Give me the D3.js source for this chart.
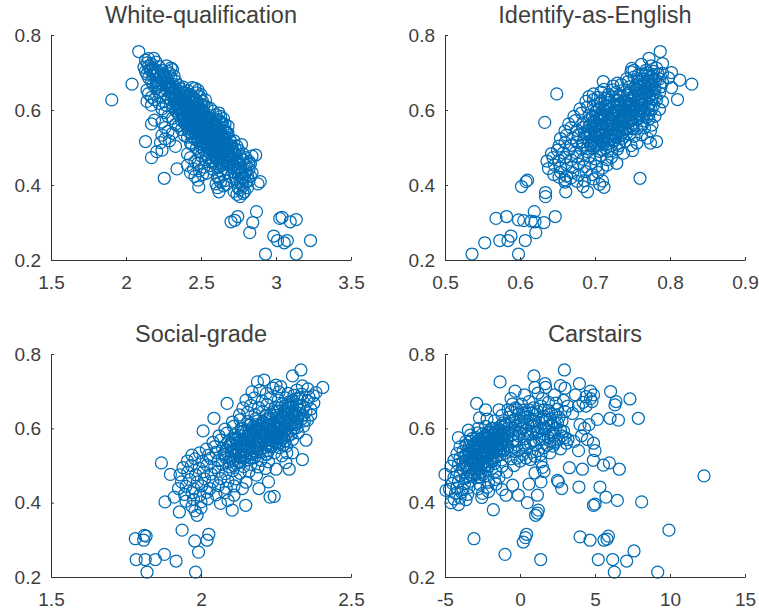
<!DOCTYPE html>
<html>
<head>
<meta charset="utf-8">
<script src="https://d3js.org/d3.v7.min.js"></script>
<style>
html, body { margin: 0; padding: 0; background: white; }
svg { display: block; }
text { font-family: "Liberation Sans", Arial, sans-serif; fill: #404040; }
</style>
</head>
<body>
<div id="chart"></div>
<script>
// values: [x, leave share]
const whiteQualification = [
  [1.905,.627],[2.04,.669],[2.085,.756],[2.185,.738],[2.13,.516],[2.17,.473],[2.205,.489],[2.255,.418],[2.34,.443],[2.485,.395],[2.62,.382],[2.76,.369],[2.865,.48],[2.895,.409],[2.88,.403],
  [2.7,.302],[2.745,.316],[2.725,.306],[2.87,.329],[2.845,.3],[2.825,.273],[2.985,.264],[3.025,.311],[3.04,.314],[3.095,.302],[3.135,.308],[3.01,.252],[3.055,.246],[3.075,.252],[3.23,.252],[2.93,.216],[3.135,.216],
  [2.13,.733],[2.15,.737],[2.14,.726],[2.17,.722],[2.2,.728],[2.12,.714],[2.15,.717],[2.18,.712],[2.22,.716],[2.27,.718],[2.3,.712],
  [2.13,.703],[2.16,.707],[2.19,.702],[2.24,.706],[2.28,.703],[2.31,.708],[2.14,.696],[2.18,.692],[2.21,.698],[2.25,.694],[2.29,.697],[2.32,.691],
  [2.15,.686],[2.2,.682],[2.23,.688],[2.26,.683],[2.3,.686],[2.17,.676],[2.21,.673],[2.25,.678],[2.28,.672],[2.33,.677],
  [2.18,.667],[2.22,.663],[2.27,.668],[2.3,.662],[2.35,.666],[2.38,.661],[2.14,.653],[2.2,.657],[2.24,.652],[2.29,.658],[2.32,.653],[2.36,.657],[2.41,.652],[2.46,.658],[2.48,.653],
  [2.15,.644],[2.22,.648],[2.26,.642],[2.31,.647],[2.34,.643],[2.38,.648],[2.43,.642],[2.47,.646],[2.5,.641],[2.17,.634],[2.23,.638],[2.28,.633],[2.33,.637],[2.37,.632],[2.4,.638],[2.45,.633],[2.49,.636],
  [2.14,.623],[2.19,.628],[2.25,.622],[2.3,.627],[2.35,.623],[2.39,.628],[2.42,.622],[2.47,.627],[2.51,.623],[2.53,.627],[2.17,.613],[2.22,.618],[2.27,.612],[2.33,.617],[2.37,.613],[2.41,.618],[2.44,.612],[2.48,.617],[2.52,.613],
  [2.24,.603],[2.31,.608],[2.35,.602],[2.39,.607],[2.43,.603],[2.46,.608],[2.5,.602],[2.54,.607],[2.26,.593],[2.33,.598],[2.37,.592],[2.41,.597],[2.45,.593],[2.48,.598],[2.52,.592],[2.58,.597],[2.62,.592],
  [2.28,.583],[2.35,.588],[2.39,.582],[2.43,.587],[2.47,.583],[2.5,.588],[2.54,.582],[2.6,.587],[2.63,.583],[2.19,.573],[2.31,.578],[2.37,.572],[2.41,.577],[2.45,.573],[2.49,.578],[2.53,.572],[2.56,.577],[2.62,.572],[2.65,.577],
  [2.17,.563],[2.24,.568],[2.33,.562],[2.39,.567],[2.43,.563],[2.47,.568],[2.51,.562],[2.55,.567],[2.58,.563],[2.63,.568],[2.66,.562],[2.26,.553],[2.35,.558],[2.41,.552],[2.45,.557],[2.49,.553],[2.53,.558],[2.57,.552],[2.6,.557],[2.65,.553],[2.68,.557],
  [2.28,.543],[2.37,.548],[2.42,.542],[2.47,.547],[2.51,.543],[2.55,.548],[2.59,.542],[2.62,.547],[2.66,.543],[2.24,.533],[2.31,.538],[2.39,.532],[2.44,.537],[2.48,.533],[2.53,.538],[2.57,.532],[2.6,.537],[2.64,.533],[2.68,.538],
  [2.26,.523],[2.41,.528],[2.46,.522],[2.5,.527],[2.55,.523],[2.59,.528],[2.62,.522],[2.66,.527],[2.69,.523],[2.23,.513],[2.29,.518],[2.43,.512],[2.48,.517],[2.52,.513],[2.57,.518],[2.6,.512],[2.64,.517],[2.67,.513],[2.72,.518],
  [2.33,.503],[2.44,.508],[2.5,.502],[2.54,.507],[2.58,.503],[2.62,.508],[2.65,.502],[2.69,.507],[2.74,.503],[2.77,.508],[2.24,.493],[2.47,.498],[2.52,.492],[2.56,.497],[2.6,.493],[2.63,.498],[2.67,.492],[2.71,.497],[2.75,.493],
  [2.41,.483],[2.49,.488],[2.54,.482],[2.58,.487],[2.62,.483],[2.65,.488],[2.69,.482],[2.72,.487],[2.78,.483],[2.43,.473],[2.5,.478],[2.55,.472],[2.59,.477],[2.63,.473],[2.67,.478],[2.7,.472],[2.76,.477],[2.8,.473],[2.84,.477],
  [2.46,.463],[2.53,.468],[2.57,.462],[2.61,.467],[2.65,.463],[2.69,.468],[2.74,.462],[2.78,.467],[2.82,.463],[2.41,.453],[2.48,.458],[2.56,.452],[2.6,.457],[2.64,.453],[2.68,.458],[2.72,.452],[2.76,.457],[2.8,.453],[2.83,.457],
  [2.45,.443],[2.52,.448],[2.58,.442],[2.62,.447],[2.67,.443],[2.71,.448],[2.75,.442],[2.79,.447],[2.82,.443],[2.43,.433],[2.49,.438],[2.54,.432],[2.63,.437],[2.68,.433],[2.74,.438],[2.77,.432],[2.8,.437],[2.84,.433],
  [2.46,.423],[2.51,.428],[2.61,.422],[2.65,.427],[2.7,.423],[2.75,.428],[2.78,.422],[2.81,.427],[2.83,.423],[2.48,.413],[2.62,.418],[2.66,.412],[2.73,.417],[2.76,.413],[2.79,.418],[2.82,.412],
  [2.6,.403],[2.63,.408],[2.67,.402],[2.74,.407],[2.77,.403],[2.8,.408],[2.61,.393],[2.65,.398],[2.75,.392],[2.78,.397],[2.81,.393],[2.72,.383],[2.76,.387],[2.79,.382],[2.74,.375],[2.78,.378],
  [2.17,.71],[2.19,.695],[2.21,.705],[2.23,.685],[2.2,.667],[2.24,.67],[2.26,.693],[2.27,.655],[2.28,.678],[2.29,.66],[2.3,.645],[2.31,.669],[2.32,.628],[2.33,.655],[2.34,.638],[2.35,.61],[2.36,.645],[2.37,.622],[2.38,.6],[2.39,.635],[2.4,.613],[2.41,.585],[2.42,.625],[2.43,.598],[2.44,.57],[2.45,.612],[2.46,.585],[2.47,.55],[2.48,.6],[2.49,.57],[2.5,.54],[2.51,.59],[2.52,.555],[2.53,.525],[2.54,.578],[2.55,.54],[2.56,.51],[2.57,.565],[2.58,.525],[2.59,.495],[2.6,.548],[2.61,.51],[2.62,.48],[2.63,.535],[2.64,.495],[2.65,.465],[2.66,.52],[2.67,.48],[2.68,.505],[2.69,.46],[2.7,.49],[2.71,.47],
  [2.335,.612],[2.355,.628],[2.375,.59],[2.395,.617],[2.415,.601],[2.435,.58],[2.455,.598],[2.475,.565],[2.495,.587],[2.515,.547],[2.535,.566],[2.555,.53],[2.575,.547],[2.595,.515],[2.615,.53],[2.635,.505],[2.655,.49],[2.675,.497],[2.345,.622],[2.365,.605],[2.385,.574],[2.405,.568],[2.425,.61],[2.445,.555],[2.465,.605],[2.485,.54],[2.505,.575],[2.525,.51],[2.545,.56],[2.565,.495],[2.585,.555],[2.605,.475],[2.625,.52],[2.645,.475],[2.665,.505],[2.685,.475],
  [2.395,.58],[2.41,.56],[2.43,.57],[2.445,.59],[2.46,.56],[2.475,.58],[2.49,.555],[2.505,.56],[2.52,.57],[2.535,.55],[2.55,.555],[2.565,.54],[2.58,.535],[2.595,.545],[2.61,.525],[2.625,.505],[2.64,.515],[2.655,.51],[2.44,.53],[2.46,.54],[2.48,.525],[2.5,.51],[2.52,.53],[2.54,.515],[2.56,.52],[2.58,.5],[2.6,.505],[2.62,.495],
  [2.29,.665],[2.33,.66],[2.44,.66],[2.36,.64],[2.4,.645],[2.44,.635],[2.34,.62],[2.38,.625],[2.46,.62],[2.5,.615],[2.36,.6],[2.42,.605],[2.47,.595],[2.51,.6],[2.56,.605],[2.38,.58],[2.42,.585],[2.46,.575],[2.52,.58],[2.56,.585],[2.6,.575],[2.42,.565],[2.46,.555],[2.5,.56],[2.54,.565],[2.6,.56],[2.64,.565],[2.44,.545],[2.49,.54],[2.53,.545],[2.57,.54],[2.63,.545],[2.67,.54],[2.48,.52],[2.52,.525],[2.56,.515],[2.6,.52],[2.65,.525],[2.7,.515],[2.52,.505],[2.56,.5],[2.6,.495],[2.66,.5],[2.7,.505],[2.73,.495],[2.56,.485],[2.6,.48],[2.64,.485],[2.68,.475],[2.73,.48],[2.58,.465],[2.63,.46],[2.67,.465],[2.71,.46],[2.76,.445],[2.79,.43],[2.72,.435],[2.77,.42],[2.82,.455],[2.74,.47]
];

const identifyAsEnglish = [
  [.536,.216],[.553,.246],[.573,.252],[.568,.311],[.582,.316],[.588,.264],[.584,.252],[.598,.216],[.598,.307],[.607,.252],[.605,.305],[.619,.329],[.62,.302],[.632,.3],[.621,.273],[.647,.316],[.615,.304],
  [.602,.396],[.608,.409],[.61,.413],[.634,.38],[.634,.369],[.649,.643],[.633,.567],[.76,.418],[.782,.516],[.711,.676],[.787,.756],[.772,.738],[.79,.724],[.749,.711],[.752,.706],[.802,.7],[.813,.68],[.829,.669],[.802,.66],[.81,.628],
  [.69,.382],[.712,.394],[.661,.382],[.729,.458],[.706,.402],[.684,.396],[.66,.408],
  [.762,.722],[.775,.718],[.782,.712],[.748,.702],[.768,.706],[.778,.703],[.79,.698],[.758,.694],[.77,.691],[.784,.696],[.742,.683],[.752,.688],[.764,.682],[.775,.687],[.786,.683],[.798,.686],
  [.724,.664],[.735,.668],[.746,.662],[.756,.667],[.766,.663],[.776,.668],[.788,.662],[.73,.672],[.744,.676],[.76,.674],[.772,.678],[.79,.674],
  [.698,.643],[.708,.648],[.718,.642],[.728,.647],[.738,.653],[.746,.648],[.756,.652],[.766,.643],[.776,.652],[.786,.646],[.712,.655],[.724,.654],
  [.688,.623],[.698,.628],[.708,.622],[.716,.633],[.726,.627],[.734,.634],[.744,.628],[.752,.636],[.762,.628],[.772,.634],[.782,.627],[.79,.622],[.692,.636],[.704,.634],
  [.68,.603],[.69,.608],[.698,.612],[.706,.604],[.714,.612],[.722,.606],[.73,.614],[.738,.607],[.746,.613],[.754,.606],[.762,.614],[.77,.607],[.778,.612],[.786,.602],
  [.672,.583],[.682,.592],[.692,.586],[.7,.594],[.708,.587],[.716,.595],[.724,.588],[.732,.596],[.74,.589],[.748,.596],[.756,.59],[.764,.596],[.772,.59],[.78,.584],
  [.665,.563],[.674,.572],[.684,.566],[.692,.574],[.7,.568],[.708,.576],[.716,.569],[.724,.577],[.732,.57],[.74,.578],[.748,.571],[.756,.577],[.764,.571],[.772,.576],[.776,.56],
  [.66,.544],[.668,.553],[.676,.546],[.684,.554],[.692,.547],[.7,.556],[.708,.549],[.716,.557],[.724,.55],[.732,.558],[.74,.551],[.748,.557],[.756,.55],[.766,.553],[.774,.545],
  [.654,.524],[.662,.533],[.67,.526],[.678,.534],[.686,.527],[.694,.536],[.702,.529],[.71,.537],[.718,.53],[.726,.538],[.734,.531],[.742,.537],[.752,.53],[.762,.534],[.77,.525],[.774,.512],
  [.652,.504],[.66,.513],[.668,.506],[.676,.514],[.684,.507],[.692,.516],[.7,.509],[.708,.517],[.716,.51],[.724,.518],[.732,.511],[.74,.517],[.748,.505],[.756,.512],
  [.642,.484],[.65,.493],[.658,.486],[.666,.494],[.674,.487],[.682,.496],[.69,.489],[.698,.497],[.706,.49],[.714,.498],[.722,.491],[.73,.496],[.738,.485],[.75,.492],
  [.636,.464],[.644,.473],[.652,.466],[.66,.474],[.668,.467],[.676,.476],[.684,.469],[.692,.477],[.7,.47],[.708,.478],[.716,.468],[.722,.474],
  [.638,.444],[.646,.453],[.654,.446],[.662,.454],[.67,.447],[.678,.456],[.686,.449],[.694,.457],[.702,.45],[.71,.445],[.716,.453],
  [.645,.428],[.654,.434],[.662,.424],[.67,.433],[.678,.427],[.688,.436],[.696,.428],[.704,.434],[.66,.414],[.668,.419],[.686,.412],[.698,.416],[.71,.411],[.652,.421],[.676,.41],
  [.684,.515],[.688,.535],[.69,.498],[.693,.56],[.696,.52],[.697,.582],[.699,.541],[.701,.505],[.703,.6],[.704,.563],[.705,.526],[.707,.617],[.708,.495],[.709,.58],[.71,.545],[.712,.51],[.713,.63],[.714,.597],[.715,.56],[.716,.525],[.717,.49],[.719,.612],[.72,.575],[.721,.54],[.722,.505],[.723,.635],[.725,.595],[.726,.56],[.727,.52],[.729,.615],[.73,.58],[.731,.545],[.732,.505],[.733,.64],[.735,.6],[.736,.565],[.737,.525],[.739,.622],[.74,.585],[.741,.55],[.743,.64],[.744,.605],[.745,.57],[.746,.535],[.749,.625],[.75,.59],[.751,.55],[.753,.66],[.755,.61],[.757,.575],[.759,.645],[.761,.6],[.763,.56],[.765,.655],[.767,.62],[.769,.58],[.771,.67],[.773,.64],[.775,.6],[.777,.695],[.779,.66],[.781,.635],[.769,.7],[.763,.695],[.757,.68],
  [.694,.505],[.697,.55],[.7,.53],[.703,.515],[.706,.54],[.709,.562],[.712,.525],[.715,.545],[.718,.58],[.721,.56],[.724,.535],[.727,.6],[.73,.555],[.733,.575],[.736,.54],[.739,.6],[.742,.565],[.745,.61],[.748,.58],[.751,.635],[.754,.595],[.757,.62],[.76,.585],[.763,.63],[.766,.6],[.769,.65],[.772,.615],[.775,.665],[.778,.645],[.781,.68],[.701,.56],[.706,.58],[.711,.6],[.718,.62],[.73,.625],
  [.686,.54],[.69,.525],[.692,.555],[.695,.51],[.698,.57],[.7,.54],[.702,.585],[.705,.51],[.707,.555],[.71,.52],[.712,.585],[.714,.535],[.716,.61],[.718,.55],[.72,.52],[.722,.59],[.724,.565],[.726,.61],[.728,.53],[.73,.595],[.732,.54],[.734,.615],[.736,.58],[.738,.555],[.74,.62],[.742,.595],[.744,.55],[.746,.585],[.748,.615],[.75,.565],[.752,.6],[.754,.64],[.756,.585],[.758,.625],[.76,.66],[.762,.605],[.764,.645],[.766,.59],[.768,.635],[.77,.66],[.772,.6],[.774,.69],[.776,.63],[.778,.68],[.78,.655],[.765,.67],[.755,.655],[.745,.64]
];

const socialGrade = [
  [1.781,.303],[1.811,.312],[1.809,.299],[1.817,.31],[1.784,.247],[1.814,.247],[1.848,.247],[1.878,.261],[1.917,.243],[1.82,.213],[1.982,.213],[1.937,.326],[1.979,.297],[1.992,.267],[2.02,.299],[2.026,.315],
  [1.88,.402],[1.868,.507],[1.898,.476],[1.911,.415],[1.928,.375],[1.987,.366],[2.007,.593],[2.043,.627],[2.087,.667],[2.104,.38],[2.149,.393],[2.065,.398],[2.244,.417],[2.23,.415],[2.193,.438],[2.225,.456],
  [2.338,.516],[2.35,.568],[2.294,.49],[2.25,.49],[2.305,.534],[2.286,.534],[2.283,.508],[2.333,.757],[2.305,.741],[2.406,.71],[2.21,.73],[2.188,.725],[2.25,.716],[2.338,.714],[2.383,.696],[2.355,.622],
  [2.24,.708],[2.266,.712],[2.32,.703],[2.356,.706],[2.374,.688],[2.17,.698],[2.196,.702],[2.218,.694],[2.26,.698],[2.29,.694],[2.31,.689],[2.336,.692],[2.36,.684],
  [2.15,.676],[2.178,.682],[2.204,.674],[2.232,.682],[2.258,.676],[2.282,.682],[2.306,.675],[2.33,.68],[2.354,.673],[2.376,.668],[2.14,.655],[2.166,.662],[2.192,.656],[2.22,.664],[2.248,.657],[2.27,.665],[2.296,.658],[2.32,.664],[2.344,.657],[2.366,.652],
  [2.128,.636],[2.156,.643],[2.18,.637],[2.206,.645],[2.232,.638],[2.256,.646],[2.28,.639],[2.304,.646],[2.328,.64],[2.35,.645],[2.366,.636],[2.105,.617],[2.13,.623],[2.156,.618],[2.182,.626],[2.206,.619],[2.23,.627],[2.254,.62],[2.276,.628],[2.3,.621],[2.322,.627],[2.345,.62],
  [2.08,.598],[2.108,.605],[2.134,.6],[2.158,.608],[2.182,.601],[2.206,.609],[2.23,.602],[2.252,.61],[2.276,.603],[2.298,.609],[2.32,.602],[2.342,.606],[2.06,.58],[2.086,.587],[2.112,.582],[2.136,.59],[2.16,.583],[2.184,.591],[2.208,.584],[2.23,.592],[2.254,.585],[2.276,.591],[2.3,.584],[2.324,.588],
  [2.04,.562],[2.066,.569],[2.09,.564],[2.114,.572],[2.138,.565],[2.162,.573],[2.186,.566],[2.208,.574],[2.232,.567],[2.256,.573],[2.28,.566],[2.305,.57],[2.018,.544],[2.046,.551],[2.072,.546],[2.096,.554],[2.12,.547],[2.144,.555],[2.168,.548],[2.19,.556],[2.214,.549],[2.238,.555],[2.262,.548],[2.285,.552],
  [1.97,.528],[1.995,.534],[2.024,.527],[2.05,.535],[2.076,.529],[2.1,.537],[2.124,.53],[2.148,.538],[2.172,.531],[2.196,.537],[2.22,.53],[2.245,.534],[2.27,.526],[1.955,.512],[1.98,.518],[2.006,.511],[2.032,.519],[2.058,.513],[2.082,.521],[2.106,.514],[2.13,.522],[2.154,.515],[2.178,.521],[2.2,.514],[2.225,.51],
  [1.94,.494],[1.968,.5],[1.994,.493],[2.02,.501],[2.046,.495],[2.07,.503],[2.094,.496],[2.118,.504],[2.142,.497],[2.166,.503],[2.19,.496],[2.215,.492],[1.93,.475],[1.956,.482],[1.982,.475],[2.008,.483],[2.034,.477],[2.058,.485],[2.082,.478],[2.106,.486],[2.13,.479],[2.16,.484],[2.185,.474],
  [1.935,.456],[1.962,.462],[1.988,.455],[2.012,.464],[2.04,.457],[2.066,.465],[2.09,.458],[2.116,.464],[2.15,.455],[1.925,.438],[1.95,.444],[1.976,.437],[2.002,.445],[2.03,.438],[2.058,.446],[2.084,.439],[2.11,.445],[2.138,.438],
  [1.945,.422],[1.97,.427],[1.996,.42],[2.02,.428],[2.05,.421],[2.08,.427],[2.11,.42],[1.95,.404],[1.975,.409],[2.0,.402],[2.022,.41],[2.09,.406],[1.97,.39],[2.0,.386],[1.98,.378],
  [2.08,.53],[2.09,.55],[2.1,.52],[2.105,.57],[2.11,.54],[2.12,.56],[2.125,.51],[2.13,.58],[2.135,.54],[2.14,.6],[2.145,.56],[2.15,.525],[2.155,.58],[2.16,.55],[2.165,.61],[2.17,.57],[2.175,.54],[2.18,.595],[2.185,.56],[2.19,.62],[2.195,.58],[2.2,.545],[2.205,.6],[2.21,.565],[2.215,.635],[2.22,.585],[2.225,.54],[2.23,.61],[2.235,.575],[2.24,.645],[2.245,.6],[2.25,.56],[2.255,.63],[2.26,.59],[2.265,.655],[2.27,.61],[2.275,.575],[2.28,.645],[2.285,.6],[2.29,.67],[2.295,.625],[2.3,.595],[2.305,.66],[2.31,.635],[2.315,.61],[2.32,.68],[2.325,.65],[2.33,.66],[2.335,.625],[2.34,.635],
  [2.095,.51],[2.115,.53],[2.135,.555],[2.15,.57],[2.165,.53],[2.175,.605],[2.19,.545],[2.2,.59],[2.21,.615],[2.22,.555],[2.23,.58],[2.24,.61],[2.25,.575],[2.26,.62],[2.27,.585],[2.28,.615],[2.29,.58],[2.3,.64],[2.31,.6],[2.32,.615],[2.18,.575],[2.19,.6],[2.2,.565],[2.21,.59],[2.22,.61],[2.23,.555],[2.24,.585],[2.25,.6],[2.26,.56],[2.27,.63],[2.28,.595],[2.29,.64],[2.15,.54],[2.16,.595],[2.17,.52],[2.18,.55],[2.12,.57],[2.13,.51],[2.14,.53],[2.11,.5],
  [2.085,.54],[2.1,.56],[2.11,.525],[2.12,.545],[2.13,.565],[2.14,.545],[2.15,.59],[2.16,.565],[2.17,.545],[2.175,.585],[2.185,.61],[2.195,.565],[2.205,.585],[2.215,.6],[2.225,.57],[2.235,.595],[2.245,.615],[2.255,.58],[2.265,.6],[2.275,.62],[2.285,.585],[2.295,.61],[2.305,.635],[2.315,.645],[2.2,.605],[2.21,.575],[2.22,.625],[2.23,.59],[2.24,.565],[2.25,.635],[2.26,.605],[2.27,.57],[2.28,.66],[2.29,.655],[2.3,.67],[2.165,.59],[2.155,.56],[2.145,.52],[2.135,.57],[2.125,.535],[2.185,.535],[2.195,.555],[2.215,.53],[2.235,.55],[2.255,.565],[2.275,.555]
];

const carstairs = [
  [12.27,.472],[9.93,.326],[8.11,.402],[7.89,.627],[7.33,.679],[6.04,.699],[6.4,.672],[6.33,.663],[6,.627],[6.56,.622],[5.16,.624],[6.62,.49],[5.96,.507],[5.56,.501],[4.89,.514],[5.33,.442],[5.73,.415],[6.49,.406],[4.9,.393],[5,.396],
  [4,.308],[4.67,.299],[5.89,.31],[5.6,.299],[5.8,.302],[5.22,.247],[6.18,.247],[7.11,.243],[7.6,.27],[6.29,.213],[9.18,.213],[-3.07,.303],[-1,.261],[1.38,.247],[.22,.294],[.44,.315],[.36,.306],
  [-1.78,.381],[1.04,.366],[1.22,.38],[1.16,.372],[.49,.4],[1.16,.42],[-.11,.42],[-.93,.42],[-.49,.447],[1.4,.456],[2.56,.456],[2.5,.46],[2.78,.438],[3.93,.442],[3.29,.494],[4.16,.49],[-1.33,.725],[.93,.741],[2.96,.757],[3.96,.72],[1.67,.72],[-.33,.7],[-2.89,.667],[-3.44,.595],[-4.11,.575],
  [-5,.476],[-4.93,.433],[-4.6,.4],[-4.1,.395],[-2.55,.414],[-1.2,.435],[-2.1,.43],[.6,.45],[3.9,.54],[4.9,.56],[5,.54],[4.1,.58],[4.5,.57],[3.2,.57],[4.0,.61],[4.6,.61],[4.3,.6],[3.6,.565],
  [1,.71],[1.7,.71],[2.7,.715],[3,.708],[4.7,.7],[4.9,.69],[4.4,.685],[4.7,.68],[4.2,.67],[3.7,.69],[3.9,.66],[2.3,.69],[1.2,.695],[.3,.69],[-.6,.68],[2.9,.675],[3.2,.66],[4.8,.672],[4.4,.66],
  [-.5,.665],[.1,.665],[.6,.672],[1.5,.68],[1.9,.67],[2.4,.668],[-.8,.65],[-.3,.655],[.3,.65],[.9,.655],[1.4,.66],[1.9,.648],[2.5,.652],[3,.645],[3.5,.64],[-1.4,.65],[-2.3,.65],[-2.7,.628],
  [-1.2,.635],[-.7,.63],[-.1,.638],[.5,.632],[1.1,.638],[1.6,.632],[2.1,.638],[2.6,.63],[-2.2,.625],[-1.7,.62],[-1.1,.615],[-.5,.62],[.1,.615],[.7,.622],[1.3,.616],[1.8,.622],[2.3,.615],[2.8,.62],
  [-2.8,.6],[-2.3,.605],[-1.8,.6],[-1.3,.606],[-.8,.6],[-.3,.606],[.2,.6],[.8,.606],[1.4,.6],[1.9,.606],[2.4,.6],[2.9,.592],[-3.3,.582],[-2.8,.588],[-2.3,.582],[-1.9,.589],[-1.4,.583],[-1,.59],[-.5,.583],[0,.59],[.5,.584],[1.1,.59],[1.6,.584],[2.2,.588],[2.8,.58],
  [-3.6,.565],[-3.2,.572],[-2.8,.566],[-2.4,.573],[-2,.567],[-1.6,.574],[-1.2,.567],[-.8,.574],[-.3,.566],[.3,.572],[.9,.566],[1.5,.571],[2,.566],[2.6,.57],[3.1,.56],[-4,.55],[-3.6,.555],[-3.2,.549],[-2.8,.556],[-2.4,.55],[-2,.557],[-1.6,.55],[-1.2,.557],[-.8,.55],[-.2,.555],[.4,.548],[1,.555],[1.6,.548],[2.2,.552],[2.7,.545],
  [-4.2,.532],[-3.8,.538],[-3.4,.532],[-3,.539],[-2.6,.533],[-2.2,.54],[-1.8,.533],[-1.4,.54],[-1,.533],[-.4,.538],[.2,.53],[.8,.536],[1.4,.53],[2,.534],[-4.4,.514],[-4,.52],[-3.6,.514],[-3.2,.521],[-2.8,.515],[-2.4,.522],[-2,.515],[-1.6,.522],[-1.2,.515],[-.6,.518],[0,.512],[.7,.516],[1.4,.51],
  [-4.6,.498],[-4.1,.503],[-3.7,.497],[-3.3,.504],[-2.9,.498],[-2.5,.505],[-2.1,.498],[-1.7,.505],[-1.2,.498],[-.4,.5],[1.5,.495],[-4.2,.485],[-3.8,.49],[-3.4,.483],[-3,.49],[-2.6,.484],[-2.2,.49],[-1.6,.484],[-.9,.482],[1,.48],[1.6,.484],
  [-4.4,.468],[-4,.473],[-3.6,.467],[-3.2,.474],[-2.8,.468],[-2.3,.472],[-1.4,.468],[-4.5,.452],[-4.1,.457],[-3.7,.451],[-3.3,.458],[-2.7,.45],[-2.1,.455],[-1.7,.462],[-4.7,.436],[-4.2,.44],[-3.8,.435],[-3.4,.441],[-2.8,.437],[-2.2,.441],[-1.6,.45],[-4.3,.425],[-3.9,.428],[-3.5,.422],[-2.5,.425],[-4.4,.41],[-4,.413],[-3.6,.408],
  [-3.8,.51],[-3.6,.53],[-3.5,.495],[-3.4,.55],[-3.3,.515],[-3.2,.535],[-3.1,.505],[-3,.56],[-2.9,.525],[-2.8,.545],[-2.7,.49],[-2.6,.565],[-2.5,.52],[-2.4,.54],[-2.3,.5],[-2.2,.575],[-2.1,.53],[-2,.55],[-1.9,.51],[-1.8,.585],[-1.7,.545],[-1.6,.565],[-1.5,.525],[-1.4,.595],[-1.3,.555],[-1.2,.58],[-1.1,.54],[-1,.61],[-.9,.57],[-.8,.59],[-3.5,.47],[-3.1,.48],[-2.7,.51],[-2.5,.56],[-2.3,.58],[-2.7,.57],[-2.1,.59],[-1.9,.57],[-1.5,.585],[-1.7,.59],[-2.5,.475],[-2.9,.555],[-3.3,.565],
  [-.7,.61],[-.5,.565],[-.3,.625],[-.1,.58],[.1,.6],[.3,.63],[.5,.61],[.7,.585],[.9,.62],[1.1,.605],[1.3,.57],[1.5,.625],[1.7,.6],[1.9,.575],[2.1,.61],[2.3,.58],[2.5,.615],[2.7,.595],[-.6,.645],[-.2,.65],[.2,.64],[.6,.65],[1,.62],[1.2,.645],[1.6,.65],[2,.625],[2.4,.635],[-.4,.6],[0,.62],[.4,.595],[.8,.64],[1.2,.59],[1.6,.6],[2,.59],[-.6,.54],[-.1,.54],[.3,.555],[.7,.56],[1.2,.54],[1.8,.555],[2.4,.565],[-.2,.52],[.4,.52],[1,.525],[2.3,.56],[3,.575],
  [-3.4,.525],[-3.2,.51],[-3,.52],[-2.9,.54],[-2.8,.505],[-2.7,.53],[-2.6,.55],[-2.5,.535],[-2.4,.51],[-2.3,.56],[-2.2,.525],[-2.1,.545],[-2,.58],[-1.9,.535],[-1.8,.56],[-1.7,.575],[-1.6,.54],[-1.5,.56],[-1.4,.575],[-1.3,.54],[-3.1,.55],[-2.9,.575],[-2.7,.545],[-2.5,.585],[-2.3,.535],[-2.1,.565],[-1.9,.6],[-1.7,.56],[-1.5,.6],[-1.3,.595],[-1.1,.57],[-.9,.555],[-3.6,.5],[-3.3,.495],[-3,.5],[-2.7,.47],[-2.4,.495],[-2.2,.51],[-2,.535],[-1.8,.52],[-3.7,.525],[-3.5,.54],[-3.3,.475],[-3,.475],[-2.6,.5],[-2.4,.53],[-1.5,.545],[-1.1,.59],[-.9,.61]
];

const panels = [
  {title: "White-qualification", points: whiteQualification, xTicks: [1.5, 2, 2.5, 3, 3.5], row: 0, col: 0},
  {title: "Identify-as-English", points: identifyAsEnglish, xTicks: [.5, .6, .7, .8, .9], row: 0, col: 1},
  {title: "Social-grade", points: socialGrade, xTicks: [1.5, 2, 2.5], row: 1, col: 0},
  {title: "Carstairs", points: carstairs, xTicks: [-5, 0, 5, 10, 15], row: 1, col: 1}
];
const yTicks = [.2, .4, .6, .8];

const colLeft = [51, 445], rowTop = [35, 354];
const plotWidth = 300, rowHeight = [225, 223];

const svg = d3.select("#chart").append("svg")
  .attr("width", 759)
  .attr("height", 614);

panels.forEach(function(p) {
  const h = rowHeight[p.row];
  const g = svg.append("g")
    .attr("transform", "translate(" + colLeft[p.col] + "," + rowTop[p.row] + ")");

  const x = d3.scaleLinear().domain(d3.extent(p.xTicks)).range([0, plotWidth]);
  const y = d3.scaleLinear().domain([.2, .8]).range([h, 0]);

  g.selectAll("circle")
    .data(p.points)
    .enter()
    .append("circle")
    .attr("cx", d => x(d[0]))
    .attr("cy", d => y(d[1]))
    .attr("r", 6)
    .attr("fill", "none")
    .attr("stroke", "#006DB6")
    .attr("stroke-width", 1.25);

  const xAxis = d3.axisBottom(x).tickValues(p.xTicks).tickFormat(d => String(d))
    .tickSizeInner(-3).tickSizeOuter(0).tickPadding(16);
  const yAxis = d3.axisLeft(y).tickValues(yTicks).tickFormat(d => String(d))
    .tickSizeInner(-3).tickSizeOuter(0).tickPadding(10);

  [g.append("g").attr("transform", "translate(0," + h + ")").call(xAxis),
   g.append("g").call(yAxis)].forEach(function(a) {
    a.selectAll("path, line").attr("stroke", "#333333");
    a.selectAll("text").style("font-size", "19px").attr("fill", "#404040");
  });

  g.append("text")
    .attr("x", plotWidth / 2)
    .attr("y", -12)
    .attr("text-anchor", "middle")
    .style("font-size", "23.5px")
    .text(p.title);
});
</script>
</body>
</html>
